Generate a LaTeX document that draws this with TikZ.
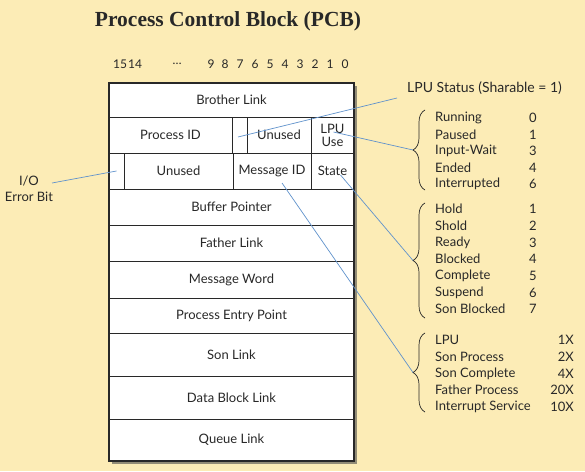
\documentclass[tikz,border=0pt]{standalone}
\usepackage{fontspec}
\setmainfont{Lato}
\newfontfamily\titlefont{Liberation Serif}
\usetikzlibrary{decorations.pathreplacing,shadows}

\definecolor{pcbback}{RGB}{252,236,182}
\definecolor{pcbline}{RGB}{96,146,204}
\definecolor{pcbtext}{RGB}{40,40,40}

\tikzset{
  cell/.style={draw=pcbtext, line width=0.6pt, fill=white, inner sep=0pt, text=pcbtext,
    font=\fontsize{13}{14}\selectfont, align=center},
  item/.style={anchor=west, inner sep=0pt, text=pcbtext, font=\fontsize{13}{14}\selectfont},
  bit/.style={inner sep=0pt, text=pcbtext, font=\fontsize{12}{14}\selectfont},
  link/.style={pcbline, line width=0.7pt},
  curly/.style={decorate, decoration={brace, amplitude=12pt}, line width=0.7pt, pcbtext}
}

\begin{document}
\begin{tikzpicture}[x=1pt,y=-1pt]

\fill[pcbback] (0,0) rectangle (585,471);
\useasboundingbox (0,0) rectangle (585,471);

% title and bit numbers
\node[text=pcbtext, font=\titlefont\bfseries\fontsize{21.5}{24}\selectfont] (title) at (228,21) {Process Control Block (PCB)};
\foreach \nm/\txt/\x in {15/15/120, 14/14/135, dots/\dots/177, 9/9/211, 8/8/225, 7/7/240, 6/6/255,
    5/5/270, 4/4/285, 3/3/300, 2/2/315, 1/1/330, 0/0/345}
  \node[bit] (bit\nm) at (\x,64) {\txt};

% the block
\fill[white, drop shadow={shadow xshift=2.5pt, shadow yshift=-2.5pt, fill=black!70, opacity=0.6}] (109,83) rectangle (354,461);

\node[cell, minimum width=245pt, minimum height=34pt] (brother) at (231.5,100) {Brother Link};

\node[cell, minimum width=123pt, minimum height=36pt] (pid) at (170.5,135) {Process ID};
\node[cell, minimum width=15pt, minimum height=36pt] (share) at (239.5,135) {};
\node[cell, minimum width=64pt, minimum height=36pt] (unused1) at (279,135) {Unused};
\node[cell, minimum width=43pt, minimum height=36pt, font=\fontsize{13}{13}\selectfont] (lpu) at (332.5,135) {LPU\\Use};

\node[cell, minimum width=15pt, minimum height=36pt] (iobit) at (116.5,171) {};
\node[cell, minimum width=109pt, minimum height=36pt] (unused2) at (178.5,171) {Unused};
\node[cell, minimum width=78pt, minimum height=36pt] (msgid) at (272,171) {Message ID};
\node[cell, minimum width=43pt, minimum height=36pt] (state) at (332.5,171) {State};

\foreach \nm/\txt/\y/\h in {buffer/Buffer Pointer/207/36, father/Father Link/243/36,
    word/Message Word/279.5/37, entry/Process Entry Point/315.5/35, son/Son Link/354.5/43,
    data/Data Block Link/397.5/43, queue/Queue Link/440/42}
  \node[cell, minimum width=245pt, minimum height=\h pt] (\nm) at (231.5,\y) {\txt};

\draw[pcbtext, line width=1.1pt] (109,83) rectangle (354,461);

% labels outside
\node[text=pcbtext, align=center, inner sep=0pt, font=\fontsize{13}{16}\selectfont] (io) at (29,189) {I/O\\Error Bit};
\node[item, font=\fontsize{14}{16}\selectfont] (status) at (407,88) {LPU Status (Sharable = 1)};

\foreach \txt/\val [count=\i] in {Running/0, Paused/1, Input-Wait/3, Ended/4, Interrupted/6} {
  \node[item] (run\i) at (435,{118+16.5*(\i-1)}) {\txt};
  \node[item, anchor=center] (runval\i) at (533,{118+16.5*(\i-1)}) {\val};
}
\foreach \txt/\val [count=\i] in {Hold/1, Shold/2, Ready/3, Blocked/4, Complete/5, Suspend/6, Son Blocked/7} {
  \node[item] (st\i) at (435,{209+16.7*(\i-1)}) {\txt};
  \node[item, anchor=center] (stval\i) at (533,{209+16.7*(\i-1)}) {\val};
}
\foreach \txt/\val [count=\i] in {LPU/1X, Son Process/2X, Son Complete/4X, Father Process/20X, Interrupt Service/10X} {
  \node[item] (msg\i) at (435,{340+16.75*(\i-1)}) {\txt};
  \node[item, anchor=east] (msgval\i) at (574,{340+16.75*(\i-1)}) {\val};
}

% braces
\draw[curly] (425,190) -- (425,110) coordinate[midway, xshift=-12pt] (tipstatus);
\draw[curly] (425,318) -- (425,203) coordinate[pos=0.5, xshift=-12pt] (tipstate);
\draw[curly] (425,412) -- (425,333) coordinate[midway, xshift=-12pt] (tipmsg);

% connectors
\coordinate (sharept) at (238,137);
\coordinate (statuspt) at (397,98);
\draw[link] (sharept) -- (statuspt);
\draw[link] ([shift={(1,-3)}]lpu.center) -- (tipstatus);
\draw[link] (52,183) coordinate (iopt) -- (iobit.center);
\draw[link] ([shift={(8,4)}]state.center) -- (tipstate);
\draw[link] ([shift={(10,12)}]msgid.center) -- (tipmsg);

\end{tikzpicture}
\end{document}
